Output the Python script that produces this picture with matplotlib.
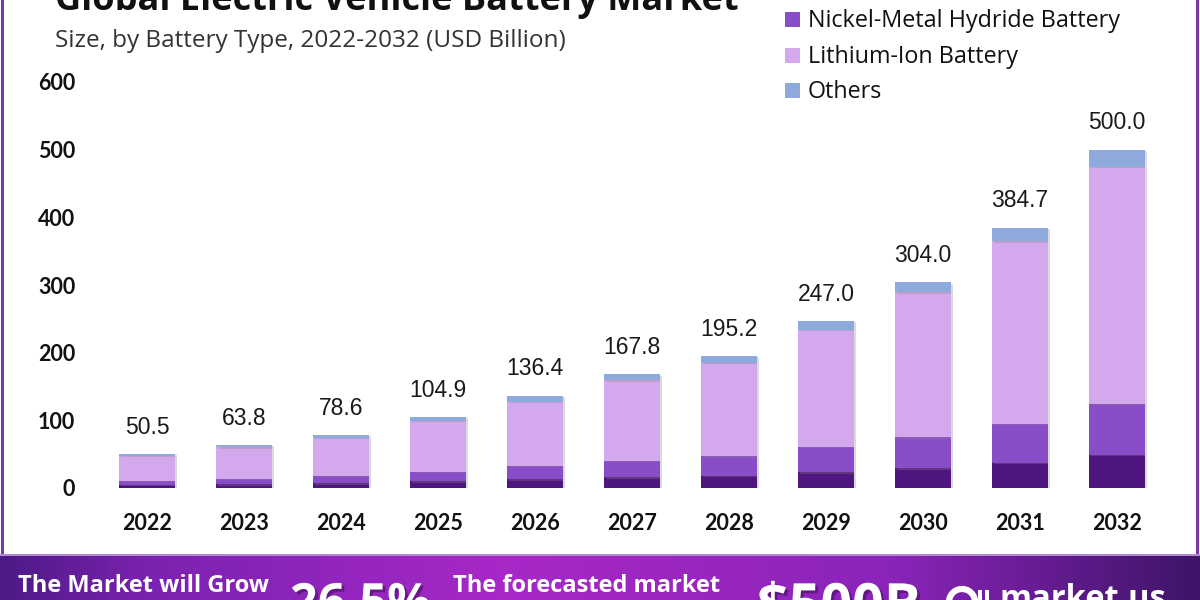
import matplotlib
matplotlib.use("Agg")
import matplotlib.pyplot as plt
import numpy as np
from matplotlib.patches import Rectangle, Arc
import matplotlib.patheffects as pe
from matplotlib.colors import LinearSegmentedColormap

# ---------------- data ----------------
years = ["2022", "2023", "2024", "2025", "2026", "2027", "2028", "2029", "2030", "2031", "2032"]
lead_acid = [4.5, 5.5, 7.0, 10.0, 13.0, 16.0, 18.0, 23.0, 29.0, 37.5, 49.0]
nickel_metal = [6.5, 8.5, 11.0, 14.0, 19.5, 24.5, 29.0, 38.0, 46.0, 57.0, 75.0]
lithium_ion = [36.5, 46.0, 56.5, 75.0, 95.0, 118.5, 138.0, 173.0, 214.0, 270.0, 351.0]
others = [3.0, 3.8, 4.1, 5.9, 8.9, 8.8, 10.2, 13.0, 15.0, 20.2, 25.0]
totals = [50.5, 63.8, 78.6, 104.9, 136.4, 167.8, 195.2, 247.0, 304.0, 384.7, 500.0]
series_names = ["Lead-Acid Battery", "Nickel-Metal Hydride Battery", "Lithium-Ion Battery", "Others"]
y_ticks = [0, 100, 200, 300, 400, 500, 600]

colors = ["#4f1680", "#8a4dc8", "#d3a8ec", "#8eaadd"]

W, H = 1200, 600
fig = plt.figure(figsize=(12, 6), dpi=100)
fig.patch.set_facecolor("white")

def fx(px):
    return px / W

def fy(py):
    return 1 - py / H

# ---------------- main axes ----------------
ax_left, ax_right = 96, 1168
ax_top, ax_bottom = 82, 488
ax = fig.add_axes([fx(ax_left), fy(ax_bottom), fx(ax_right - ax_left), (ax_bottom - ax_top) / H])
x = np.arange(len(years))
spacing = 97.0
ax.set_xlim(-(147 - ax_left) / spacing, len(years) - 1 + (ax_right - 1117) / spacing)
ax.set_ylim(0, 600)

bottom = np.zeros(len(years))
shadow = [pe.SimplePatchShadow(offset=(1.5, -1.0), shadow_rgbFace="#888888", alpha=0.3), pe.Normal()]
for vals, col, name in zip([lead_acid, nickel_metal, lithium_ion, others], colors, series_names):
    bars = ax.bar(x, vals, width=0.57, bottom=bottom, color=col, label=name, zorder=3, linewidth=0)
    for b in bars:
        b.set_path_effects(shadow)
    bottom += np.array(vals)

for xi, t in zip(x, totals):
    ax.annotate(f"{t:.1f}", (xi, t), xytext=(0, 11), textcoords="offset points",
                ha="center", va="bottom", fontsize=16.5, family="Liberation Sans", color="#1a1a1a")

ax.set_xticks(x)
ax.set_xticklabels(years, fontsize=15.5, fontweight="bold", family="Lato", color="#111111")
ax.set_yticks(y_ticks)
ax.set_yticklabels([str(v) for v in y_ticks], fontsize=15.5, fontweight="bold", family="Lato", color="#111111")
ax.tick_params(axis="both", length=0)
ax.tick_params(axis="x", pad=18)
ax.tick_params(axis="y", pad=15)
for sp in ax.spines.values():
    sp.set_visible(False)
ax.set_facecolor("none")

# ---------------- title / subtitle ----------------
fig.text(fx(55), fy(10), "Global Electric Vehicle Battery Market", fontsize=26, fontweight="bold",
         family="Open Sans", color="#111111", ha="left", va="baseline")
fig.text(fx(55), fy(47), "Size, by Battery Type, 2022-2032 (USD Billion)", fontsize=17.5,
         family="Open Sans", color="#333333", ha="left", va="baseline")

# ---------------- legend (manual) ----------------
leg_base = [-9, 27, 63, 98]
for name, col, yb in zip(series_names, colors, leg_base):
    fig.patches.append(Rectangle((fx(785), fy(yb)), fx(15), 15 / H, transform=fig.transFigure,
                                 facecolor=col, edgecolor="none"))
    fig.text(fx(808), fy(yb), name, fontsize=16.8, family="Open Sans", color="#111111",
             ha="left", va="baseline")

# ---------------- side borders ----------------
for xb in [1, 1196]:
    fig.patches.append(Rectangle((fx(xb), fy(555)), fx(3), 555 / H, transform=fig.transFigure,
                                 facecolor="#7a3aa0", edgecolor="none"))
fig.patches.append(Rectangle((0, fy(556)), 1, 2 / H, transform=fig.transFigure,
                             facecolor="#b48ad0", edgecolor="none"))

# ---------------- bottom banner ----------------
bax = fig.add_axes([0, 0, 1, 44 / H])
cmap = LinearSegmentedColormap.from_list("ban", [(0, "#4e1a86"), (0.12, "#7a22b0"), (0.42, "#a828c8"),
                                                 (0.75, "#8a24b8"), (1.0, "#3e1468")])
grad = np.linspace(0, 1, 600).reshape(1, -1)
bax.imshow(np.vstack([grad, grad]), aspect="auto", cmap=cmap, extent=[0, W, 0, 44])
bax.set_xlim(0, W)
bax.set_ylim(0, 44)
bax.axis("off")
tshadow = [pe.withSimplePatchShadow(offset=(2, -2), shadow_rgbFace="#2a0a40", alpha=0.45)]
bax.text(18, 8, "The Market will Grow", fontsize=17, fontweight="bold", family="Open Sans", color="white",
         ha="left", va="baseline")
bax.text(290, -18, "26.5%", fontsize=35, fontweight="bold", family="Open Sans", color="white",
         ha="left", va="baseline", path_effects=tshadow)
bax.text(453, 8, "The forecasted market", fontsize=17, fontweight="bold", family="Open Sans", color="white",
         ha="left", va="baseline")
bax.text(757, -23, "$500B", fontsize=40, fontweight="bold", family="Open Sans", color="white",
         ha="left", va="baseline", path_effects=tshadow)
bax.text(1000, -8, "market.us", fontsize=23.5, fontweight="bold", family="Open Sans", color="white",
         ha="left", va="baseline")
# logo mark
bax.add_patch(Arc((962, -2), 26, 26, theta1=0, theta2=300, lw=4.5, color="white"))
bax.add_patch(Rectangle((978, -4), 4, 14, color="white", lw=0))
bax.add_patch(Rectangle((985, -4), 4, 14, color="white", lw=0))

fig.savefig("out.png", dpi=100)
